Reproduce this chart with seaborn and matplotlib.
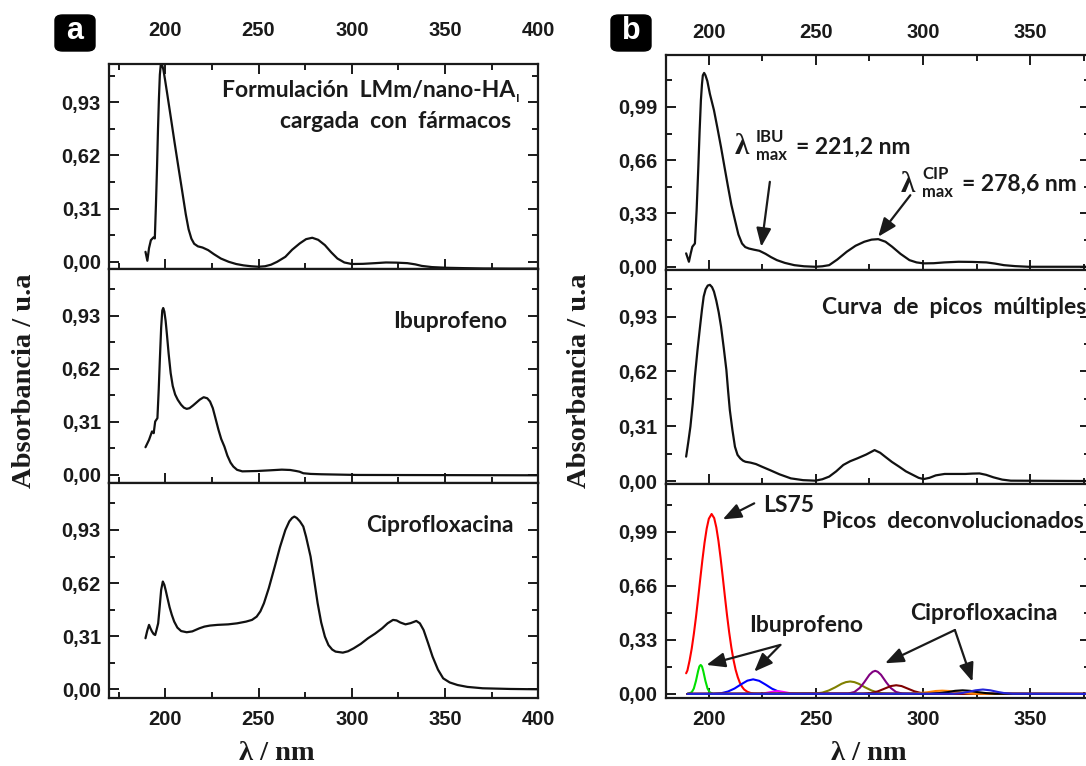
import numpy as np
import pandas as pd
import matplotlib
matplotlib.use("Agg")
import matplotlib.pyplot as plt
import matplotlib.patches as mpatches
from matplotlib.ticker import FixedLocator, MultipleLocator, FuncFormatter
import seaborn as sns

# ---------------- data ----------------
# Panel a, top: drug-loaded formulation
wl_a1 = [189.4, 190.4, 191.3, 192.3, 193.7, 194.4, 195.0, 195.6, 196.1, 196.6, 197.1, 197.6, 198.3,
         199.0, 199.9, 201.0, 203.0, 205.0, 207.0, 209.0, 211.0, 212.5, 214.0, 215.5, 217.5, 220.0,
         223.0, 226.0, 229.8, 234.0, 238.0, 242.0, 246.0, 250.0, 253.5, 256.7, 260.0, 264.4, 268.0,
         272.1, 275.5, 278.8, 282.0, 285.6, 289.0, 292.3, 296.0, 300.0, 306.0, 312.5, 318.3, 324.0,
         329.8, 334.0, 337.5, 343.0, 351.0, 360.0, 370.2, 385.0, 400.0]
abs_a1 = [0.058, 0.006, 0.080, 0.126, 0.142, 0.136, 0.330, 0.555, 0.770, 0.950, 1.090, 1.150, 1.148,
          1.120, 1.060, 0.983, 0.840, 0.695, 0.555, 0.417, 0.277, 0.190, 0.135, 0.105, 0.090, 0.083,
          0.068, 0.045, 0.019, 0.000, -0.013, -0.021, -0.026, -0.029, -0.026, -0.017, 0.000, 0.029, 0.070,
          0.107, 0.132, 0.140, 0.128, 0.097, 0.055, 0.019, -0.004, -0.013, -0.012, -0.008, -0.004, -0.005,
          -0.008, -0.015, -0.024, -0.031, -0.035, -0.037, -0.039, -0.040, -0.040]

# Panel a, middle: Ibuprofeno
wl_a2 = [189.4, 191.3, 192.9, 193.8, 194.6, 195.8, 196.5, 197.1, 197.8, 198.4, 198.9, 199.5, 200.2,
         200.9, 201.8, 202.9, 204.0, 205.3, 206.7, 208.5, 210.0, 211.5, 213.0, 214.8, 216.3, 218.5,
         220.6, 222.5, 224.0, 225.5, 226.9, 228.5, 230.0, 231.7, 233.3, 235.0, 236.5, 238.5, 241.3,
         249.0, 256.0, 262.5, 267.0, 270.2, 272.0, 274.0, 278.0, 283.7, 302.9, 400.0]
abs_a2 = [0.162, 0.205, 0.254, 0.244, 0.312, 0.332, 0.500, 0.673, 0.860, 0.960, 0.975, 0.955, 0.900,
          0.820, 0.710, 0.595, 0.520, 0.470, 0.439, 0.410, 0.393, 0.386, 0.390, 0.405, 0.419, 0.440,
          0.454, 0.448, 0.429, 0.390, 0.332, 0.265, 0.210, 0.166, 0.113, 0.072, 0.049, 0.030, 0.021,
          0.023, 0.027, 0.031, 0.029, 0.023, 0.019, 0.010, 0.006, 0.004, 0.000, -0.002]

# Panel a, bottom: Ciprofloxacina
wl_a3 = [189.4, 190.3, 191.3, 192.1, 192.9, 193.8, 194.6, 195.4, 196.2, 197.0, 197.8, 198.7, 199.5,
         200.3, 201.0, 202.3, 203.5, 204.8, 206.5, 208.5, 211.5, 214.5, 218.3, 221.0, 224.0, 228.0,
         233.7, 238.5, 243.3, 246.5, 249.0, 251.0, 252.9, 255.5, 258.7, 261.5, 264.4, 266.5, 268.0,
         269.2, 270.5, 272.2, 274.0, 275.5, 277.9, 279.8, 281.7, 283.6, 285.6, 287.5, 289.5, 291.3,
         295.2, 298.0, 301.0, 304.8, 308.7, 312.5, 316.3, 319.2, 322.1, 324.0, 326.0, 328.8, 331.5,
         334.6, 336.5, 338.5, 340.9, 343.3, 346.2, 349.0, 352.5, 356.7, 362.0, 370.2, 385.0, 400.0]
abs_a3 = [0.298, 0.340, 0.376, 0.355, 0.337, 0.322, 0.317, 0.350, 0.385, 0.480, 0.580, 0.629, 0.610,
          0.575, 0.541, 0.480, 0.435, 0.395, 0.360, 0.340, 0.333, 0.338, 0.356, 0.366, 0.372, 0.376,
          0.379, 0.385, 0.395, 0.405, 0.424, 0.455, 0.502, 0.590, 0.716, 0.830, 0.930, 0.980, 1.000,
          1.008, 1.000, 0.980, 0.950, 0.890, 0.775, 0.640, 0.502, 0.390, 0.307, 0.258, 0.232, 0.220,
          0.214, 0.222, 0.239, 0.265, 0.298, 0.325, 0.356, 0.385, 0.405, 0.402, 0.390, 0.379, 0.386,
          0.399, 0.385, 0.346, 0.270, 0.191, 0.115, 0.064, 0.040, 0.025, 0.014, 0.006, 0.002, 0.000]

# Panel b, top: measured spectrum
wl_b1 = [189.4, 190.7, 191.5, 192.3, 193.5, 194.3, 195.1, 195.7, 196.3, 196.8, 197.2, 197.8, 198.4,
         199.3, 200.5, 202.4, 204.0, 205.7, 207.3, 208.9, 210.5, 212.2, 213.8, 215.5, 217.0, 218.7,
         221.0, 223.6, 226.5, 229.0, 231.8, 235.5, 239.9, 244.5, 249.7, 253.0, 256.2, 260.0, 264.4,
         268.5, 272.6, 276.0, 279.1, 282.5, 285.6, 289.5, 293.7, 297.0, 300.3, 305.0, 310.0, 316.6,
         323.0, 329.6, 333.5, 337.8, 343.0, 349.2, 378.0]
abs_b1 = [0.083, 0.031, 0.080, 0.124, 0.144, 0.350, 0.619, 0.840, 1.031, 1.130, 1.185, 1.200, 1.186,
          1.150, 1.070, 0.969, 0.860, 0.740, 0.619, 0.500, 0.385, 0.289, 0.200, 0.144, 0.122, 0.113,
          0.106, 0.099, 0.080, 0.060, 0.041, 0.024, 0.010, 0.003, 0.000, 0.003, 0.010, 0.045, 0.093,
          0.130, 0.155, 0.168, 0.171, 0.155, 0.124, 0.080, 0.041, 0.027, 0.021, 0.022, 0.027, 0.031,
          0.030, 0.027, 0.020, 0.010, 0.004, 0.000, 0.000]

# Panel b, middle: multiple-peak fit curve
wl_b2 = [189.4, 190.4, 191.4, 192.5, 193.5, 194.7, 195.9, 196.8, 197.6, 198.5, 199.5, 200.5, 201.5,
         202.4, 203.5, 204.6, 205.7, 207.0, 208.2, 209.0, 209.8, 211.0, 212.2, 213.4, 214.7, 216.0,
         217.1, 219.5, 222.0, 225.0, 228.5, 233.0, 238.3, 244.0, 249.7, 253.0, 256.2, 259.5, 262.8,
         266.0, 269.3, 273.5, 277.4, 280.0, 282.3, 285.5, 288.9, 292.0, 295.4, 298.0, 300.3, 303.0,
         306.0, 310.1, 315.0, 319.8, 323.0, 326.4, 329.5, 332.9, 337.0, 341.0, 378.0]
abs_b2 = [0.138, 0.220, 0.308, 0.440, 0.591, 0.740, 0.874, 0.970, 1.044, 1.085, 1.106, 1.110, 1.097,
          1.072, 1.020, 0.955, 0.874, 0.750, 0.628, 0.510, 0.402, 0.290, 0.194, 0.148, 0.128, 0.115,
          0.109, 0.104, 0.096, 0.080, 0.062, 0.038, 0.015, 0.005, 0.002, 0.010, 0.025, 0.055, 0.091,
          0.112, 0.128, 0.150, 0.175, 0.160, 0.138, 0.108, 0.081, 0.055, 0.034, 0.018, 0.011, 0.018,
          0.032, 0.040, 0.040, 0.040, 0.042, 0.043, 0.035, 0.021, 0.008, 0.002, 0.000]

# Panel b, bottom: deconvoluted peaks
wl_ls75 = [189.4, 190.0, 191.0, 192.0, 193.0, 194.0, 195.0, 196.0, 197.0, 198.0, 199.0, 200.0, 201.3,
           202.5, 203.5, 204.5, 205.5, 206.5, 207.5, 208.5, 209.5, 210.5, 211.5, 212.5, 213.5, 214.5,
           215.5, 216.5, 218.0, 219.5, 221.0, 224.0, 378.0]
ab_ls75 = [0.126, 0.143, 0.203, 0.276, 0.366, 0.469, 0.583, 0.702, 0.818, 0.923, 1.009, 1.069, 1.098,
           1.073, 1.016, 0.933, 0.829, 0.714, 0.595, 0.480, 0.376, 0.285, 0.209, 0.148, 0.103, 0.068,
           0.044, 0.027, 0.013, 0.006, 0.002, 0.000, 0.000]

wl_ibu1 = [190.0, 192.0, 193.0, 194.0, 195.0, 195.6, 196.2, 196.8, 197.4, 198.4, 199.4, 200.4, 202.0, 378.0]
ab_ibu1 = [0.000, 0.010, 0.033, 0.080, 0.140, 0.168, 0.177, 0.168, 0.140, 0.080, 0.033, 0.010, 0.000, 0.000]

wl_ibu2 = [190.0, 202.0, 206.0, 209.0, 212.0, 215.0, 218.0, 220.7, 223.5, 226.5, 229.5, 232.5, 236.0, 240.0, 378.0]
ab_ibu2 = [0.000, 0.001, 0.005, 0.015, 0.033, 0.058, 0.081, 0.089, 0.080, 0.057, 0.032, 0.015, 0.004, 0.001, 0.000]

wl_mag = [190.0, 222.0, 225.0, 227.5, 230.0, 232.0, 234.0, 236.5, 239.0, 242.0, 378.0]
ab_mag = [0.000, 0.000, 0.002, 0.008, 0.014, 0.017, 0.014, 0.008, 0.002, 0.000, 0.000]

wl_cip1 = [190.0, 250.0, 253.0, 256.0, 259.0, 262.0, 264.0, 266.0, 268.0, 270.0, 273.0, 276.0, 279.0, 282.0, 286.0, 378.0]
ab_cip1 = [0.000, 0.003, 0.008, 0.021, 0.040, 0.062, 0.072, 0.076, 0.072, 0.062, 0.040, 0.021, 0.008, 0.003, 0.000, 0.000]

wl_cip2 = [190.0, 265.0, 268.0, 270.5, 272.5, 275.0, 276.5, 277.7, 278.9, 280.4, 282.9, 284.9, 287.4, 290.4, 294.0, 378.0]
ab_cip2 = [0.000, 0.002, 0.012, 0.037, 0.070, 0.117, 0.135, 0.141, 0.135, 0.117, 0.070, 0.037, 0.012, 0.002, 0.000, 0.000]

wl_cip3 = [190.0, 272.0, 276.0, 279.0, 282.0, 285.0, 287.5, 290.0, 293.0, 296.0, 299.0, 303.0, 378.0]
ab_cip3 = [0.000, 0.001, 0.006, 0.016, 0.032, 0.048, 0.053, 0.048, 0.032, 0.016, 0.006, 0.001, 0.000]

wl_cip4 = [190.0, 294.0, 298.0, 302.0, 306.0, 309.0, 312.0, 316.0, 320.0, 324.0, 378.0]
ab_cip4 = [0.000, 0.001, 0.005, 0.010, 0.018, 0.020, 0.018, 0.010, 0.005, 0.001, 0.000]

wl_cip5 = [190.0, 303.5, 307.5, 311.5, 315.0, 318.5, 322.0, 325.5, 329.5, 333.5, 378.0]
ab_cip5 = [0.000, 0.001, 0.005, 0.011, 0.019, 0.022, 0.019, 0.011, 0.005, 0.001, 0.000]

wl_cip6 = [190.0, 314.0, 318.0, 321.0, 324.5, 328.0, 331.5, 335.0, 338.0, 342.0, 378.0]
ab_cip6 = [0.000, 0.001, 0.005, 0.012, 0.022, 0.027, 0.022, 0.012, 0.005, 0.001, 0.000]

peak_colors = ["#ff0000", "#00e000", "#0000ff", "#ff00ff", "#808000",
               "#800080", "#800000", "#ff8000", "#000000", "#2323d8"]

xticks = [200, 250, 300, 350, 400]
yt_a = [0.00, 0.31, 0.62, 0.93]
yt_b = [0.00, 0.33, 0.66, 0.99]

# ---------------- styling ----------------
sns.set_theme(style="ticks")
plt.rcParams["font.family"] = ["Liberation Sans", "DejaVu Sans"]
plt.rcParams["font.weight"] = "bold"
plt.rcParams["axes.linewidth"] = 1.5

W, H = 1086, 766
fig = plt.figure(figsize=(W / 100, H / 100), dpi=100)


def add_ax(l, r, t, b):
    return fig.add_axes([l / W, 1 - b / H, (r - l) / W, (b - t) / H])


def ftext(x, y, s, **kw):
    return fig.text(x / W, 1 - y / H, s, **kw)


comma = FuncFormatter(lambda v, p: f"{v:.2f}".replace(".", ","))


def style_ax(ax, xlim, ylim, yt, top_labels=False, bottom_labels=False, top_ticks=False, top_pad=9):
    ax.set_xlim(*xlim)
    ax.set_ylim(*ylim)
    ax.xaxis.set_major_locator(FixedLocator(xticks))
    ax.xaxis.set_minor_locator(MultipleLocator(25))
    ax.yaxis.set_major_locator(FixedLocator(yt))
    step = yt[1] - yt[0]
    ax.yaxis.set_minor_locator(FixedLocator([v + step / 2 for v in yt]))
    ax.yaxis.set_major_formatter(comma)
    ax.tick_params(which="both", direction="in", colors="#1a1a1a", width=1.4,
                   right=True, top=top_ticks, bottom=True,
                   labeltop=top_labels, labelbottom=bottom_labels, labelright=False)
    ax.tick_params(which="major", length=7, labelsize=14.5, pad=6)
    ax.tick_params(which="minor", length=4)
    ax.tick_params(axis="x", which="major", pad=9)
    if top_labels:
        ax.tick_params(axis="x", which="major", labeltop=True, pad=top_pad)
    ax.set_xlabel("")
    ax.set_ylabel("")
    for sp in ax.spines.values():
        sp.set_color("#1a1a1a")
        sp.set_linewidth(1.6)
    for lab in ax.get_xticklabels() + ax.get_yticklabels():
        lab.set_fontweight("bold")


def curve(ax, x, y, color="#111111", lw=1.6):
    df = pd.DataFrame({"wl": x, "A": y})
    sns.lineplot(data=df, x="wl", y="A", ax=ax, color=color, lw=lw,
                 sort=False, estimator=None, legend=False)


# ---------------- panel a ----------------
xa = (170, 400)
a1 = add_ax(109.3, 538.3, 64, 269.5)
a2 = add_ax(109.3, 538.3, 269.5, 483)
a3 = add_ax(109.3, 538.3, 483, 697.7)
curve(a1, wl_a1, abs_a1)
curve(a2, wl_a2, abs_a2)
curve(a3, wl_a3, abs_a3)
style_ax(a1, xa, (-0.045, 1.153), yt_a, top_labels=True, top_ticks=True, top_pad=17)
style_ax(a2, xa, (-0.047, 1.200), yt_a)
style_ax(a3, xa, (-0.049, 1.204), yt_a, bottom_labels=True)

# ---------------- panel b ----------------
xb = (180, 378)
b1 = add_ax(666, 1090, 55, 270)
b2 = add_ax(666, 1090, 270, 483.5)
b3 = add_ax(666, 1090, 483.5, 697.7)
curve(b1, wl_b1, abs_b1)
curve(b2, wl_b2, abs_b2)
peaks = [(wl_ls75, ab_ls75), (wl_ibu1, ab_ibu1), (wl_ibu2, ab_ibu2), (wl_mag, ab_mag),
         (wl_cip1, ab_cip1), (wl_cip2, ab_cip2), (wl_cip3, ab_cip3), (wl_cip4, ab_cip4),
         (wl_cip5, ab_cip5), (wl_cip6, ab_cip6)]
for (x, y), c in zip(peaks, peak_colors):
    curve(b3, x, y, color=c, lw=1.5)
style_ax(b1, xb, (-0.020, 1.311), yt_b, top_labels=True, top_ticks=True, top_pad=9)
style_ax(b2, xb, (-0.014, 1.194), yt_a)
style_ax(b3, xb, (-0.023, 1.284), yt_b, bottom_labels=True)

# ---------------- texts ----------------
ann = dict(family=["Lato", "DejaVu Sans"], fontweight="bold", color="#1a1a1a")
fs = 16.5
ftext(515, 90, "Formulación  LMm/nano-HA", ha="right", va="center", fontsize=fs, **ann)
ftext(516, 98, "I", ha="left", va="center", fontsize=8.5, **ann)
ftext(511, 121, "cargada  con  fármacos", ha="right", va="center", fontsize=fs, **ann)
ftext(507, 322, "Ibuprofeno", ha="right", va="center", fontsize=fs, **ann)
ftext(514, 526, "Ciprofloxacina", ha="right", va="center", fontsize=fs, **ann)

ftext(822, 308, "Curva  de  picos  múltiples", ha="left", va="center", fontsize=fs, **ann)
ftext(822, 521, "Picos  deconvolucionados", ha="left", va="center", fontsize=fs, **ann)
ftext(763, 506, "LS75", ha="left", va="center", fontsize=fs, **ann)
ftext(749, 625, "Ibuprofeno", ha="left", va="center", fontsize=fs, **ann)
ftext(910, 613, "Ciprofloxacina", ha="left", va="center", fontsize=fs, **ann)

lam = dict(family=["Liberation Serif", "DejaVu Serif"], fontweight="bold", color="#1a1a1a")
ftext(742, 147, "λ", ha="center", va="center", fontsize=21, **lam)
ftext(756, 137, "IBU", ha="left", va="center", fontsize=12, **ann)
ftext(756, 155, "max", ha="left", va="center", fontsize=12, **ann)
ftext(796, 147, "= 221,2 nm", ha="left", va="center", fontsize=fs, **ann)
ftext(908, 184, "λ", ha="center", va="center", fontsize=21, **lam)
ftext(922, 174, "CIP", ha="left", va="center", fontsize=12, **ann)
ftext(922, 192, "max", ha="left", va="center", fontsize=12, **ann)
ftext(962, 184, "= 278,6 nm", ha="left", va="center", fontsize=fs, **ann)

# arrows (data coordinates)
arw = dict(arrowstyle="-|>,head_length=0.8,head_width=0.32", color="#1a1a1a", lw=1.6,
           shrinkA=0, shrinkB=0, mutation_scale=14)
b1.annotate("", xy=(224.5, 0.124), xytext=(228.5, 0.526), arrowprops=arw)
b1.annotate("", xy=(279.1, 0.186), xytext=(294.1, 0.443), arrowprops=arw)
b3.annotate("", xy=(206.5, 1.065), xytext=(221.2, 1.163), arrowprops=arw)
b3.annotate("", xy=(198.9, 0.177), xytext=(233.4, 0.299), arrowprops=arw)
b3.annotate("", xy=(221.2, 0.136), xytext=(233.4, 0.299), arrowprops=arw)
b3.annotate("", xy=(282.3, 0.187), xytext=(314.9, 0.390), arrowprops=arw)
b3.annotate("", xy=(323.1, 0.075), xytext=(314.9, 0.390), arrowprops=arw)

# axis labels
axl = dict(family=["Liberation Serif", "DejaVu Serif"], fontweight="bold", color="#1a1a1a", fontsize=20.5)
ftext(25, 381, "Absorbancia / u.a", rotation=90, ha="center", va="center", **axl)
ftext(580, 381, "Absorbancia / u.a", rotation=90, ha="center", va="center", **axl)
ftext(277, 753, "λ / nm", ha="center", va="center", **axl)
ftext(869, 753, "λ / nm", ha="center", va="center", **axl)

# panel letters
for (x0, lab) in [(55, "a"), (611, "b")]:
    box = mpatches.FancyBboxPatch((x0 / W, 1 - 51 / H), 40 / W, 36 / H,
                                  boxstyle="round,pad=0,rounding_size=0.007",
                                  transform=fig.transFigure, fc="black", ec="black")
    fig.patches.append(box)
    ftext(x0 + 20, 31, lab, ha="center", va="center", color="white", fontsize=22,
          fontweight="bold", family=["Liberation Sans", "DejaVu Sans"])

fig.savefig("out.png", dpi=100)
